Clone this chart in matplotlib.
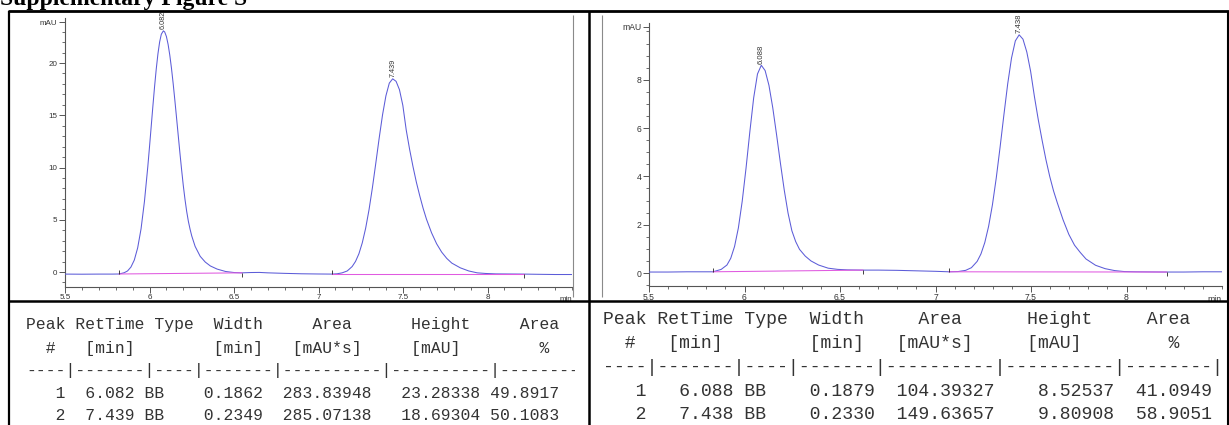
import matplotlib
matplotlib.use("Agg")
import matplotlib.pyplot as plt
from matplotlib.lines import Line2D
from matplotlib.ticker import FixedLocator, FixedFormatter
from matplotlib.transforms import Bbox, blended_transform_factory

# ---------------- data ----------------
# chromatogram A (racemate) : time [min], signal [mAU]
time_a = [5.50, 5.60, 5.70, 5.78, 5.82, 5.85, 5.87, 5.89, 5.91, 5.93, 5.95, 5.97,
          5.99, 6.00, 6.01, 6.02, 6.03, 6.04, 6.05, 6.06, 6.07, 6.082, 6.09, 6.10,
          6.11, 6.12, 6.13, 6.14, 6.15, 6.16, 6.17, 6.18, 6.19, 6.20, 6.21, 6.22,
          6.23, 6.24, 6.25, 6.27, 6.30, 6.33, 6.36, 6.40, 6.45, 6.50, 6.547, 6.60,
          6.65, 6.70, 6.80, 6.90, 7.00, 7.08, 7.11, 7.14, 7.17, 7.199, 7.219, 7.239,
          7.259, 7.279, 7.299, 7.319, 7.339, 7.359, 7.379, 7.399, 7.419, 7.439, 7.459,
          7.479, 7.499, 7.519, 7.539, 7.559, 7.579, 7.599, 7.619, 7.639, 7.669, 7.699,
          7.729, 7.759, 7.789, 7.839, 7.889, 7.939, 7.989, 8.05, 8.216, 8.30, 8.40, 8.50]
signal_a = [-0.20, -0.21, -0.20, -0.20, -0.19, -0.07, 0.10, 0.47, 1.14, 2.31, 4.13, 6.74,
            10.09, 11.97, 13.92, 15.87, 17.74, 19.44, 20.89, 22.02, 22.76, 23.08, 22.97, 22.54,
            21.79, 20.76, 19.50, 18.04, 16.44, 14.77, 13.07, 11.39, 9.78, 8.27, 6.95, 5.80,
            4.85, 4.10, 3.45, 2.45, 1.50, 0.95, 0.58, 0.28, 0.05, -0.05, -0.08, -0.05,
            -0.04, -0.08, -0.13, -0.17, -0.19, -0.20, -0.17, -0.08, 0.10, 0.52, 1.01, 1.74,
            2.79, 4.19, 5.96, 8.07, 10.41, 12.81, 15.05, 16.87, 18.08, 18.49, 18.25,
            17.45, 15.95, 13.60, 11.75, 10.10, 8.60, 7.30, 6.10, 5.05, 3.75, 2.70,
            1.90, 1.30, 0.85, 0.40, 0.10, -0.08, -0.14, -0.18, -0.20, -0.22, -0.24, -0.24]
bl_start_a = [5.82, 7.08]
bl_start_lvl_a = [-0.19, -0.20]
bl_end_a = [6.547, 8.216]
bl_end_lvl_a = [-0.08, -0.20]

# chromatogram B (enriched sample)
time_b = [5.50, 5.60, 5.70, 5.80, 5.835, 5.848, 5.878, 5.908, 5.928, 5.948, 5.968, 5.988,
          6.008, 6.028, 6.048, 6.068, 6.088, 6.108, 6.128, 6.148, 6.168, 6.188, 6.208,
          6.228, 6.248, 6.268, 6.288, 6.318, 6.348, 6.388, 6.438, 6.488, 6.538, 6.62,
          6.70, 6.80, 6.90, 7.00, 7.07, 7.118, 7.158, 7.188, 7.218, 7.238, 7.258, 7.278,
          7.298, 7.318, 7.338, 7.358, 7.378, 7.398, 7.418, 7.438, 7.458, 7.478, 7.498,
          7.518, 7.538, 7.558, 7.578, 7.598, 7.618, 7.638, 7.668, 7.698, 7.728, 7.758,
          7.788, 7.838, 7.888, 7.938, 7.988, 8.05, 8.21, 8.30, 8.40, 8.50]
signal_b = [0.04, 0.04, 0.05, 0.05, 0.05, 0.08, 0.15, 0.33, 0.61, 1.10, 1.87, 2.97,
            4.34, 5.85, 7.25, 8.24, 8.60, 8.38, 7.77, 6.84, 5.72, 4.55, 3.44,
            2.48, 1.75, 1.30, 0.98, 0.70, 0.50, 0.33, 0.20, 0.15, 0.13, 0.12,
            0.12, 0.11, 0.09, 0.07, 0.05, 0.06, 0.11, 0.22, 0.48, 0.79, 1.26, 1.93,
            2.82, 3.93, 5.20, 6.54, 7.83, 8.90, 9.61, 9.86, 9.68, 9.15, 8.35,
            7.30, 6.35, 5.50, 4.70, 4.00, 3.40, 2.90, 2.20, 1.60, 1.15, 0.85,
            0.58, 0.32, 0.18, 0.10, 0.06, 0.05, 0.04, 0.04, 0.05, 0.05]
bl_start_b = [5.835, 7.07]
bl_start_lvl_b = [0.05, 0.05]
bl_end_b = [6.62, 8.21]
bl_end_lvl_b = [0.12, 0.04]

# integration results
peak_no = [1, 2]
peak_type = ["BB", "BB"]
rt_a = [6.082, 7.439]
width_a = [0.1862, 0.2349]
area_a = [283.83948, 285.07138]
height_a = [23.28338, 18.69304]
pct_a = [49.8917, 50.1083]
apex_base_a = [-0.20, -0.20]

rt_b = [6.088, 7.438]
width_b = [0.1879, 0.2330]
area_b = [104.39327, 149.63657]
height_b = [8.52537, 9.80908]
pct_b = [41.0949, 58.9051]
apex_base_b = [0.075, 0.05]

x_ticks = [5.5, 6, 6.5, 7, 7.5, 8]
x_tick_labels = ["5.5", "6", "6.5", "7", "7.5", "8"]
y_ticks_a = [0, 5, 10, 15, 20]
y_ticks_b = [0, 2, 4, 6, 8]

table_header = ["Peak RetTime Type  Width     Area      Height     Area  ",
                "  #   [min]        [min]   [mAU*s]     [mAU]        %   ",
                "----|-------|----|-------|----------|----------|--------|"]

# row layouts of the two integration reports
row_fmt_a = "{n:>4}  {rt:.3f} {tp}    {w:.4f}  {a:>9.5f}   {h:>8.5f} {p:>7.4f}"
row_fmt_b = "{n:>4} {rt:>7.3f} {tp:<4} {w:>7.4f} {a:>10.5f} {h:>10.5f} {p:>8.4f}"

# ---------------- figure ----------------
W, H, DPI = 1229, 425, 100
fig = plt.figure(figsize=(W / DPI, H / DPI), dpi=DPI)
fig.patch.set_facecolor("white")

TRACE = "#5c5cd8"
BASE = "#e05ae0"
AXC = "#555555"
TXT = "#333333"


def fx(px):
    return px / W


def fy(py):
    return 1 - py / H


def pbox(x0, y0, x1, y1):
    return [fx(x0), fy(y1), (x1 - x0) / W, (y1 - y0) / H]


def fig_line(xs, ys, color="black", lw=1.0):
    fig.add_artist(Line2D([fx(v) for v in xs], [fy(v) for v in ys],
                          transform=fig.transFigure, color=color, lw=lw,
                          solid_capstyle="butt"))


def chromatogram(rect, t, s, ylim, yticks, ytop, minor_step, bl_s, bl_sl, bl_e, bl_el,
                 rts, heights, bases, fs):
    ax = fig.add_axes(pbox(*rect))
    ax.set_facecolor("none")
    ax.plot(t, s, color=TRACE, lw=0.75, zorder=3)
    for a, la, b, lb in zip(bl_s, bl_sl, bl_e, bl_el):
        ax.plot([a, b], [la, lb], color=BASE, lw=0.75, zorder=4)
        ax.plot([a], [la], marker=2, ms=3, mew=0.6, color="#222222", zorder=5)
        ax.plot([b], [lb], marker=3, ms=3, mew=0.6, color="#222222", zorder=5)
    for rt, h, b in zip(rts, heights, bases):
        ax.annotate(f"{rt:.3f}", xy=(rt, b + h), xytext=(0, 1.2),
                    textcoords="offset points", rotation=90, ha="center", va="bottom",
                    fontsize=fs - 0.6, color=TXT, family="Liberation Sans")
    ax.set_xlim(5.5, 8.5)
    ax.set_ylim(*ylim)
    for side in ("top", "right"):
        ax.spines[side].set_visible(False)
    for side in ("left", "bottom"):
        ax.spines[side].set_color(AXC)
        ax.spines[side].set_linewidth(0.8)
    ax.xaxis.set_major_locator(FixedLocator(x_ticks))
    ax.xaxis.set_major_formatter(FixedFormatter(x_tick_labels))
    minors_x = [round(5.5 + 0.1 * i, 2) for i in range(31)]
    ax.xaxis.set_minor_locator(FixedLocator(minors_x))
    ax.yaxis.set_major_locator(FixedLocator(yticks + [ytop]))
    ax.yaxis.set_major_formatter(FixedFormatter([str(v) for v in yticks] + ["mAU"]))
    n = int((ylim[1] - ylim[0]) / minor_step) + 2
    minors_y = [ylim[0] - ylim[0] % minor_step + minor_step * i for i in range(n)]
    ax.yaxis.set_minor_locator(FixedLocator([v for v in minors_y if ylim[0] < v < ytop]))
    ax.tick_params(axis="both", which="both", colors=AXC, labelcolor=TXT, direction="out")
    ax.tick_params(axis="x", which="major", length=4, width=0.7, pad=0.8, labelsize=fs)
    ax.tick_params(axis="x", which="minor", length=2.5, width=0.6)
    ax.tick_params(axis="y", which="major", length=4, width=0.7, pad=1.5, labelsize=fs)
    ax.tick_params(axis="y", which="minor", length=2.5, width=0.6)
    for lab in ax.get_xticklabels() + ax.get_yticklabels():
        lab.set_family("Liberation Sans")
    trans = blended_transform_factory(ax.transData, ax.transAxes)
    ax.text(8.5, -0.033, "min", transform=trans, ha="right", va="top", fontsize=fs,
            color=TXT, family="Liberation Sans")
    return ax


# left chromatogram: axes box in pixels (x0, y0, x1, y1)
chromatogram((65, 18, 572, 287), time_a, signal_a, (-1.435, 24.31), y_ticks_a, 23.9, 1.0,
             bl_start_a, bl_start_lvl_a, bl_end_a, bl_end_lvl_a,
             rt_a, height_a, apex_base_a, 5.8)
# right chromatogram
chromatogram((649, 23, 1222, 286), time_b, signal_b, (-0.538, 10.35), y_ticks_b, 10.19, 0.5,
             bl_start_b, bl_start_lvl_b, bl_end_b, bl_end_lvl_b,
             rt_b, height_b, apex_base_b, 6.2)

# frame of the chromatogram screenshots
fig_line([573, 573], [15, 297], color="#8a8a8a", lw=0.8)
fig_line([602, 602], [15, 297], color="#8a8a8a", lw=0.8)


# ---------------- peak tables ----------------
def table_rows(fmt, rts, widths, areas, heights, pcts):
    rows = list(table_header)
    for n, rt, tp, w, a, h, p in zip(peak_no, rts, peak_type, widths, areas, heights, pcts):
        rows.append(fmt.format(n=n, rt=rt, tp=tp, w=w, a=a, h=h, p=p))
    return rows


def draw_table(rows, x0, ys, size, clip_x):
    clip = Bbox.from_extents(0, 0, clip_x, H)
    for row, y in zip(rows, ys):
        t = fig.text(fx(x0), fy(y), row, family="Liberation Mono", fontsize=size,
                     color=TXT, ha="left", va="center")
        t.set_clip_box(clip)
        t.set_clip_on(True)


draw_table(table_rows(row_fmt_a, rt_a, width_a, area_a, height_a, pct_a), 26,
           [325, 348, 371, 393.5, 415], 11.75, 575)
draw_table(table_rows(row_fmt_b, rt_b, width_b, area_b, height_b, pct_b), 603,
           [319, 343, 367, 391, 414.5], 13.1, W)

# ---------------- page layout ----------------
fig.text(0.0, fy(5.5), "Supplementary Figure S", family="Liberation Serif", weight="bold",
         fontsize=17, ha="left", va="baseline", color="black")
fig_line([8, W], [11, 11], lw=2.0)
fig_line([9, 9], [11, H], lw=1.6)
fig_line([589, 589], [11, H], lw=1.8)
fig_line([1227.5, 1227.5], [11, H], lw=1.5)
fig_line([9, W], [301, 301], lw=1.8)

fig.savefig("out.png", dpi=DPI)
